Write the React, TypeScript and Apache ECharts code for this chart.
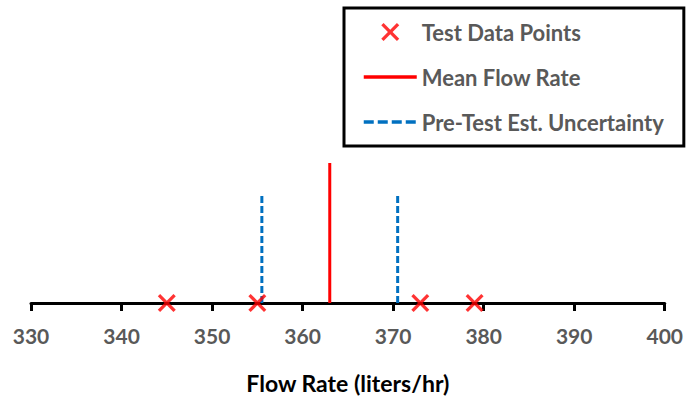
import React, { useEffect, useRef } from "react";
import * as echarts from "echarts";

// Data
const testDataPoints = [345, 355, 373, 379];
const meanFlowRate = [363];
const uncertaintyBounds = [355.5, 370.5];
const lineHeights = [1, 0.78]; // mean line, uncertainty lines (arbitrary y units)
const xRange = [330, 400];
const xInterval = 10;
const legendNames = ["Test Data Points", "Mean Flow Rate", "Pre-Test Est. Uncertainty"];

const X_SYMBOL =
  "path://M13,0L50,37L87,0L100,13L63,50L100,87L87,100L50,63L13,100L0,87L37,50L0,13Z";

export default function App() {
  const ref = useRef<HTMLDivElement>(null);

  useEffect(() => {
    if (!ref.current) return;
    const chart = echarts.init(ref.current, undefined, { renderer: "svg" });
    const font = "Lato";

    const series: any[] = [
      {
        name: legendNames[0],
        type: "scatter",
        data: testDataPoints.map((v) => [v, 0]),
        symbol: X_SYMBOL,
        symbolSize: 18,
        symbolKeepAspect: true,
        itemStyle: { color: "#FF0000" },
        z: 5,
      },
      {
        name: legendNames[1],
        type: "line",
        data: [
          [meanFlowRate[0], 0],
          [meanFlowRate[0], lineHeights[0]],
        ],
        symbol: "circle",
        showSymbol: false,
        itemStyle: { color: "#FF0000" },
        lineStyle: { color: "#FF0000", width: 3 },
        z: 3,
      },
      ...uncertaintyBounds.map((b) => ({
        name: legendNames[2],
        type: "line",
        data: [
          [b, 0],
          [b, lineHeights[1]],
        ],
        symbol: "circle",
        showSymbol: false,
        itemStyle: { color: "#0070C0" },
        lineStyle: { color: "#0070C0", width: 3, type: [7, 3] },
        z: 3,
      })),
    ];

    chart.setOption({
      animation: false,
      backgroundColor: "#ffffff",
      grid: { left: 31, right: 20, top: 163, bottom: 93, containLabel: false },
      legend: {
        orient: "vertical",
        left: 344,
        top: 8,
        padding: [13, 20, 13, 18],
        itemWidth: 53,
        itemHeight: 18,
        itemGap: 23,
        borderColor: "#000000",
        borderWidth: 3,
        borderRadius: 0,
        backgroundColor: "#ffffff",
        selectedMode: false,
        data: [
          { name: legendNames[0] },
          {
            name: legendNames[1],
            itemStyle: { opacity: 0 },
            lineStyle: { width: 3.5, color: "#FF0000", type: "solid" },
          },
          {
            name: legendNames[2],
            itemStyle: { opacity: 0 },
            lineStyle: { width: 3.5, color: "#0070C0", type: [10, 4] },
          },
        ],
        textStyle: {
          color: "#595959",
          fontWeight: "bold",
          fontSize: 22,
          fontFamily: font,
        },
      },
      xAxis: {
        type: "value",
        min: xRange[0],
        max: xRange[1],
        interval: xInterval,
        splitLine: { show: false },
        axisLine: { show: true, lineStyle: { color: "#000000", width: 3 } },
        axisTick: { show: true, length: 8, lineStyle: { color: "#000000", width: 3 } },
        axisLabel: {
          color: "#595959",
          fontWeight: "bold",
          fontSize: 21,
          fontFamily: font,
          margin: 22,
        },
        name: "Flow Rate (liters/hr)",
        nameLocation: "middle",
        nameGap: 68,
        nameTextStyle: {
          color: "#000000",
          fontWeight: "bold",
          fontSize: 23,
          fontFamily: font,
        },
      },
      yAxis: {
        type: "value",
        min: 0,
        max: 1,
        show: false,
      },
      series,
    });

    return () => chart.dispose();
  }, []);

  return (
    <div
      ref={ref}
      style={{ position: "fixed", left: 0, top: 0, width: 686, height: 396, background: "#fff" }}
    />
  );
}
